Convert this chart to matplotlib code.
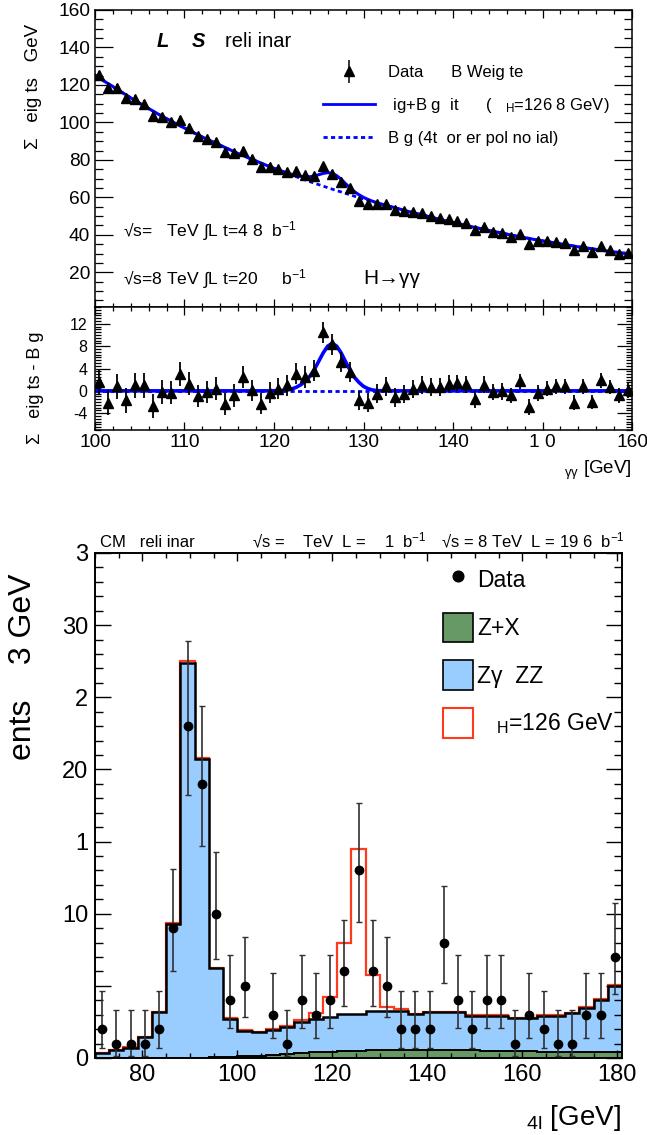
import numpy as np
import matplotlib
matplotlib.use("Agg")
import matplotlib.pyplot as plt
from matplotlib.ticker import MultipleLocator
from matplotlib.lines import Line2D
from matplotlib.patches import Patch
from matplotlib.container import ErrorbarContainer
from matplotlib.legend_handler import HandlerErrorbar

plt.rcParams.update({
    "font.family": ["Liberation Sans", "DejaVu Sans"],
    "axes.unicode_minus": False,
    "mathtext.fontset": "custom",
    "mathtext.rm": "Liberation Sans",
    "mathtext.it": "Liberation Sans:italic",
    "mathtext.bf": "Liberation Sans:bold",
    "mathtext.sf": "Liberation Sans",
    "mathtext.default": "regular",
})

# ---------------- DATA: top panel (diphoton, weighted) ----------------
gg_centers = np.arange(100.5, 160.0, 1.0)
gg_data = [125.2, 118.5, 118.4, 112.9, 112.6, 109.8, 103.3, 103.1, 100.4, 101.2,
           97.1, 92.5, 90.9, 89.3, 84.3, 83.7, 84.9, 80.5, 76.1, 76.2,
           75.0, 73.8, 74.1, 71.8, 71.2, 76.5, 72.7, 68.1, 64.8, 58.2,
           56.4, 56.6, 56.6, 53.4, 52.7, 52.2, 51.8, 50.2, 49.0, 48.5,
           47.5, 46.2, 42.4, 44.0, 41.7, 40.8, 39.1, 40.7, 35.2, 36.8,
           36.8, 36.4, 35.6, 31.9, 34.1, 30.6, 33.8, 31.9, 29.8, 30.1]
gg_resid = [1.5, -2.1, 0.8, -1.7, 1.0, 1.0, -2.7, -0.2, -0.3, 3.0,
            1.3, -0.9, -0.2, 0.4, -2.4, -0.8, 2.5, 0.1, -2.3, -0.3,
            0.4, 1.0, 3.1, 2.5, 3.6, 10.5, 8.3, 5.2, 3.4, -1.7,
            -2.1, -0.5, 0.8, -1.1, -0.5, 0.3, 1.1, 0.7, 0.7, 1.25,
            1.4, 1.2, -1.5, 1.1, -0.2, -0.1, -0.8, 1.7, -2.9, -0.4,
            0.4, 0.8, 0.8, -2.1, 0.8, -2.0, 1.9, 0.7, -0.8, 0.1]
gg_err = [2.3, 2.3, 2.2, 2.2, 2.2, 2.2, 2.1, 2.1, 2.1, 2.1,
          2.1, 2.0, 2.0, 2.0, 2.0, 2.0, 2.0, 1.9, 1.9, 1.9,
          1.9, 1.9, 1.9, 1.9, 1.9, 1.9, 1.8, 1.8, 1.8, 1.7,
          1.7, 1.7, 1.7, 1.7, 1.6, 1.6, 1.6, 1.6, 1.6, 1.5,
          1.5, 1.5, 1.5, 1.5, 1.5, 1.5, 1.4, 1.4, 1.4, 1.4,
          1.4, 1.4, 1.4, 1.3, 1.3, 1.3, 1.3, 1.3, 1.3, 1.3]
gg_curve_mass = np.arange(100.0, 160.01, 0.5)
gg_bkg_curve = [125.3, 123.7, 122.1, 120.6, 119.1, 117.6, 116.1, 114.6, 113.1, 111.6,
                110.2, 108.8, 107.4, 106.0, 104.6, 103.3, 102.0, 100.7, 99.4, 98.2,
                97.0, 95.8, 94.6, 93.4, 92.2, 91.1, 90.0, 88.9, 87.8, 86.7,
                85.6, 84.5, 83.4, 82.4, 81.4, 80.4, 79.4, 78.4, 77.4, 76.5,
                75.5, 74.6, 73.7, 72.8, 71.9, 71.0, 70.1, 69.3, 68.4, 67.6,
                66.8, 66.0, 65.2, 64.4, 63.6, 62.9, 62.1, 61.4, 60.6, 59.9,
                59.2, 58.5, 57.8, 57.1, 56.4, 55.8, 55.1, 54.5, 53.8, 53.2,
                52.5, 51.9, 51.3, 50.7, 50.1, 49.5, 48.9, 48.3, 47.7, 47.2,
                46.6, 46.1, 45.5, 45.0, 44.4, 43.9, 43.4, 42.9, 42.4, 41.9,
                41.4, 40.9, 40.4, 39.9, 39.4, 39.0, 38.5, 38.1, 37.6, 37.2,
                36.8, 36.4, 36.0, 35.6, 35.2, 34.8, 34.4, 34.0, 33.6, 33.3,
                32.9, 32.6, 32.2, 31.9, 31.5, 31.2, 30.9, 30.6, 30.3, 30.0,
                29.7]
gg_sig_mass = np.arange(119.5, 133.01, 0.5)
gg_sig_curve = [0.0, 0.02, 0.04, 0.08, 0.18, 0.35, 0.65, 1.1, 1.7, 2.6,
                3.8, 5.3, 6.8, 8.0, 8.5, 8.0, 6.8, 5.2, 3.7, 2.4,
                1.5, 0.8, 0.4, 0.15, 0.05, 0.02, 0.0, 0.0]
gg_xtick_labels = ["100", "110", "120", "130", "140", "1 0", "160"]
gg_legend_labels = ["Data      B Weig te",
                    " ig+B g  it      (   $_{H}$=126 8 GeV)",
                    "B g (4t  or er pol no ial)"]

# ---------------- DATA: bottom panel (four-lepton) ----------------
m4l_edges = np.arange(70, 182, 3)
cms_counts = [2, 1, 1, 1, 2, 9, 23, 19, 10, 4,
              5, 0, 3, 1, 4, 3, 4, 6, 13, 6,
              5, 2, 2, 2, 8, 4, 2, 4, 4, 1,
              3, 2, 1, 1, 3, 3, 7]
cms_zx = [0.02, 0.02, 0.02, 0.02, 0.02, 0.02, 0.02, 0.03, 0.05, 0.08,
          0.12, 0.17, 0.23, 0.29, 0.35, 0.40, 0.44, 0.48, 0.50, 0.52,
          0.54, 0.55, 0.56, 0.55, 0.54, 0.53, 0.52, 0.50, 0.49, 0.48,
          0.46, 0.45, 0.44, 0.42, 0.41, 0.40, 0.39]
cms_zz = [0.33, 0.51, 0.68, 1.41, 3.14, 9.26, 27.38, 20.67, 6.19, 2.65,
          1.78, 1.61, 1.73, 1.86, 2.15, 2.33, 2.41, 2.57, 2.55, 2.74,
          2.72, 2.71, 2.47, 2.62, 2.63, 2.64, 2.42, 2.44, 2.45, 2.27,
          2.29, 2.49, 2.50, 2.68, 3.04, 3.63, 4.61]
cms_higgs = [0.0, 0.03, 0.03, 0.03, 0.03, 0.05, 0.10, 0.08, 0.03, 0.03,
             0.03, 0.04, 0.05, 0.07, 0.14, 0.38, 1.35, 4.95, 11.45, 2.50,
             0.26, 0.14, 0.05, 0.04, 0.04, 0.04, 0.04, 0.04, 0.04, 0.04,
             0.04, 0.04, 0.04, 0.05, 0.06, 0.06, 0.06]
poisson_lo = {1: 0.17, 2: 0.71, 3: 1.37, 4: 2.09, 5: 2.84, 6: 3.62, 7: 4.42,
              8: 5.23, 9: 6.06, 10: 6.89, 13: 9.44, 19: 14.7, 23: 18.2}
poisson_hi = {1: 3.30, 2: 4.64, 3: 5.92, 4: 7.16, 5: 8.38, 6: 9.58, 7: 10.77,
              8: 11.95, 9: 13.11, 10: 14.27, 13: 17.7, 19: 24.4, 23: 28.9}
cms_yticks = [0, 5, 10, 15, 20, 25, 30, 35]
cms_ytick_labels = ["0", "", "10", "1", "20", "2", "30", "3"]
cms_legend_labels = ["Data", "Z+X", "Z\u03b3  ZZ", "   $_{H}$=126 GeV"]

# ---------------- FIGURE ----------------
W, H, DPI = 647, 1135, 100
fig = plt.figure(figsize=(W / DPI, H / DPI), dpi=DPI)
fig.patch.set_facecolor("white")


def px_axes(l, t, r, b):
    return fig.add_axes([l / W, 1 - b / H, (r - l) / W, (b - t) / H])


def ftext(x, y, s, size, **kw):
    kw.setdefault("ha", "left")
    kw.setdefault("va", "baseline")
    return fig.text(x / W, 1 - y / H, s, fontsize=size, **kw)


def style_spines(ax, lw):
    for sp in ax.spines.values():
        sp.set_linewidth(lw)


BLUE = "#0000ff"
RED = "#ff3a1a"
LBLUE = "#99ccff"
GREEN = "#669966"
DASH = (0, (1.5, 1.2))

curve_mass = np.asarray(gg_curve_mass)
bkg_curve = np.asarray(gg_bkg_curve)
sig_full = np.zeros_like(bkg_curve)
idx = np.rint((np.asarray(gg_sig_mass) - curve_mass[0]) / 0.5).astype(int)
sig_full[idx] = gg_sig_curve

# ---- top main panel ----
ax1 = px_axes(95, 10, 632, 307)
ax1.plot(curve_mass, bkg_curve, color=BLUE, lw=2.0, ls=DASH, zorder=2)
ax1.plot(curve_mass, bkg_curve + sig_full, color=BLUE, lw=2.2, zorder=2.1)
eb1 = ax1.errorbar(gg_centers, gg_data, yerr=gg_err, fmt="^", color="black",
                   ms=6.5, elinewidth=1.1, capsize=0, zorder=3)
ax1.set_xlim(100, 160)
ax1.set_ylim(1.5, 160)
ax1.xaxis.set_major_locator(MultipleLocator(10))
ax1.xaxis.set_minor_locator(MultipleLocator(2))
ax1.yaxis.set_major_locator(MultipleLocator(20))
ax1.yaxis.set_minor_locator(MultipleLocator(5))
ax1.tick_params(which="both", direction="in", top=True, right=True,
                labelbottom=False, width=0.9)
ax1.tick_params(axis="y", which="major", length=13, labelsize=13.8, pad=3.6)
ax1.tick_params(axis="y", which="minor", length=6)
ax1.tick_params(axis="x", which="major", length=5.5)
ax1.tick_params(axis="x", which="minor", length=3)
style_spines(ax1, 1.1)

h_sb = Line2D([], [], color=BLUE, lw=2.0)
h_b = Line2D([], [], color=BLUE, lw=2.0, ls=DASH)
ax1.legend([eb1, h_sb, h_b], gg_legend_labels, loc="upper left",
           bbox_to_anchor=(323 / W, 1 - 65 / H), bbox_transform=fig.transFigure,
           frameon=False, fontsize=12, handlelength=3.1, handletextpad=0.78,
           labelspacing=0.95, borderpad=0, borderaxespad=0,
           handler_map={ErrorbarContainer: HandlerErrorbar(yerr_size=0.7)})

# ---- top residual panel ----
ax2 = px_axes(95, 307, 632, 430)
ax2.axhline(0, color=BLUE, lw=2.0, ls=DASH, zorder=2)
ax2.plot(curve_mass, sig_full, color=BLUE, lw=2.6, zorder=2.1)
ax2.errorbar(gg_centers, gg_resid, yerr=gg_err, fmt="^", color="black",
             ms=6.5, elinewidth=1.3, capsize=0, zorder=3)
ax2.set_xlim(100, 160)
ax2.set_ylim(-7, 15)
ax2.set_xticks(np.arange(100, 161, 10), gg_xtick_labels)
ax2.xaxis.set_minor_locator(MultipleLocator(2))
ax2.yaxis.set_major_locator(MultipleLocator(4))
ax2.yaxis.set_minor_locator(MultipleLocator(0.5))
ax2.tick_params(which="both", direction="in", top=True, right=True, width=0.9)
ax2.tick_params(axis="y", which="major", length=11, labelsize=11.5, pad=5.5)
ax2.tick_params(axis="y", which="minor", length=4)
ax2.tick_params(axis="x", which="major", length=6, labelsize=13.8, pad=3.2)
ax2.tick_params(axis="x", which="minor", length=3)
style_spines(ax2, 1.1)

# ---- top texts ----
ftext(157, 47, "L", 14.5, weight="bold", style="italic")
ftext(192, 47, "S", 14.5, weight="bold", style="italic")
ftext(225, 47, "reli inar", 14.5)
ftext(122.7, 236, "\u221as=   TeV \u222bL t=4 8  b$^{-1}$", 12.6)
ftext(122.7, 284, "\u221as=8 TeV \u222bL t=20     b$^{-1}$", 12.6)
ftext(363, 283.5, "H\u2192\u03b3\u03b3", 15)
ftext(34, 24, "\u03a3   eig ts   GeV", 13.5, rotation=90, ha="center", va="top")
ftext(35, 332, "\u03a3   eig ts - B g", 13, rotation=90, ha="center", va="top")
ftext(632, 473.5, "$_{\u03b3\u03b3}$ [GeV]", 13.5, ha="right")

# ---- bottom panel ----
edges = np.asarray(m4l_edges, dtype=float)
centers = 0.5 * (edges[:-1] + edges[1:])
zx = np.asarray(cms_zx)
zz = np.asarray(cms_zz)
hh = np.asarray(cms_higgs)
bkg_tot = zx + zz
sig_tot = bkg_tot + hh

ax3 = px_axes(95, 553, 622, 1058)
ax3.stairs(sig_tot, edges, fill=True, color="white", zorder=1.0)
ax3.stairs(sig_tot, edges, color=RED, lw=1.6, zorder=1.1)
ax3.stairs(bkg_tot, edges, fill=True, color=LBLUE, zorder=1.2)
ax3.stairs(bkg_tot, edges, color="black", lw=1.8, zorder=1.3)
ax3.stairs(zx, edges, fill=True, color=GREEN, zorder=1.4)
ax3.stairs(zx, edges, color="black", lw=1.4, zorder=1.5)

counts = np.asarray(cms_counts)
mask = counts > 0
cnt = counts[mask]
lo = np.array([poisson_lo[int(n)] for n in cnt])
hi = np.array([poisson_hi[int(n)] for n in cnt])
ax3.errorbar(centers[mask], cnt, yerr=[cnt - lo, hi - cnt], fmt="o",
             color="black", ms=6, ecolor="#303030", elinewidth=1.2,
             capsize=2.5, capthick=1.0, zorder=3)
ax3.set_xlim(70, 181)
ax3.set_ylim(0, 35)
ax3.set_xticks(np.arange(80, 181, 20))
ax3.xaxis.set_minor_locator(MultipleLocator(5))
ax3.set_yticks(cms_yticks, cms_ytick_labels)
ax3.yaxis.set_minor_locator(MultipleLocator(1))
ax3.tick_params(which="both", direction="in", top=True, right=True, width=1.0)
ax3.tick_params(axis="y", which="major", length=11.5, labelsize=17, pad=5)
ax3.tick_params(axis="y", which="minor", length=5.8)
ax3.tick_params(axis="x", which="major", length=6, labelsize=17, pad=4)
ax3.tick_params(axis="x", which="minor", length=3.6)
style_spines(ax3, 1.4)

h_d = Line2D([], [], marker="o", ls="none", color="black", ms=7.7)
h_zx = Patch(facecolor=GREEN, edgecolor="black", lw=1.2)
h_zz = Patch(facecolor=LBLUE, edgecolor="black", lw=1.2)
h_h = Patch(facecolor="white", edgecolor=RED, lw=1.5)
ax3.legend([h_d, h_zx, h_zz, h_h], cms_legend_labels, loc="upper left",
           bbox_to_anchor=(443 / W, 1 - 565 / H), bbox_transform=fig.transFigure,
           frameon=False, fontsize=16.5, handlelength=1.29, handleheight=1.62,
           handletextpad=0.2, labelspacing=0.78, borderpad=0, borderaxespad=0)

ftext(100, 547, "CM   reli inar", 12)
ftext(251.7, 547, "\u221as =    TeV  L =    1  b$^{-1}$", 12)
ftext(440.7, 547, "\u221as = 8 TeV  L = 19 6  b$^{-1}$", 12)
ftext(23, 573, "ents    3 GeV", 23, rotation=90, ha="center", va="top")
ftext(621, 1125, "$_{4l}$ [GeV]", 20, ha="right")

fig.savefig("out.png", dpi=DPI)
